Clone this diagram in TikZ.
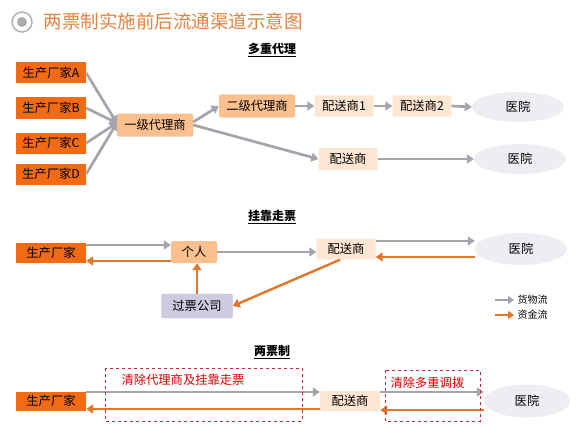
\documentclass[tikz,border=0pt]{standalone}
\usepackage{fontspec}
\setmainfont{Noto Sans CJK SC}
\usepackage{tikz}
\usetikzlibrary{positioning,arrows.meta,shapes.geometric}
\usepackage{xcolor}
\definecolor{titleorange}{HTML}{E4813F}
\definecolor{makerorange}{HTML}{F26A12}
\definecolor{agentpeach}{HTML}{FBC08E}
\definecolor{distpeach}{HTML}{FDE6D2}
\definecolor{hospgray}{HTML}{EDEDF2}
\definecolor{ticketlilac}{HTML}{CFCADF}
\definecolor{goodsgray}{HTML}{A4A4AC}
\definecolor{moneyorange}{HTML}{E0762A}
\definecolor{cutred}{HTML}{C8283C}

\begin{document}
\begin{tikzpicture}[x=1pt,y=-1pt,
  txt/.style={font=\fontsize{12.3}{14}\selectfont},
  maker/.style={txt,rectangle,fill=makerorange,minimum width=70pt,minimum height=21pt,inner sep=0pt},
  agent/.style={txt,rectangle,rounded corners=2pt,fill=agentpeach,minimum width=76pt,minimum height=23pt,inner sep=0pt},
  dist/.style={txt,rectangle,rounded corners=1pt,fill=distpeach,minimum width=59pt,minimum height=21pt,inner sep=0pt},
  hosp/.style={txt,ellipse,fill=hospgray,minimum width=92pt,minimum height=30pt,inner sep=0pt},
  goods/.style={draw=goodsgray,line width=2.7pt,-{Triangle[length=7pt,width=9pt]}},
  money/.style={draw=moneyorange,line width=2.4pt,-{Triangle[length=7pt,width=9pt]}},
  header/.style={font=\fontsize{12}{14}\selectfont\bfseries},
  cutline/.style={draw=cutred,dashed,line width=0.9pt},
  cuttext/.style={txt,text=red!85!black}]
  \useasboundingbox (0,0) rectangle (580,425);

  % title
  \draw[draw=gray!60,line width=1.5pt] (22,22) circle (10);
  \fill[gray!65] (22,22) circle (5);
  \node[anchor=west,text=titleorange,font=\fontsize{18.5}{20}\selectfont] (title) at (40,21) {两票制实施前后流通渠道示意图};

  % multi-level agents
  \node[header] (sec1) at (272,50) {\underline{多重代理}};
  \node[maker] (mA) at (51,73) {生产厂家A};
  \node[maker] (mB) at (51,108) {生产厂家B};
  \node[maker] (mC) at (51,143) {生产厂家C};
  \node[maker] (mD) at (51,174) {生产厂家D};
  \node[agent] (a1) at (155,125) {一级代理商};
  \node[agent] (a2) at (257,106) {二级代理商};
  \node[dist] (d11) at (344,106) {配送商1};
  \node[dist] (d12) at (422,106) {配送商2};
  \node[hosp] (h11) at (518,107) {医院};
  \node[dist,minimum height=22pt] (d13) at (348,159) {配送商};
  \node[hosp] (h12) at (520,159) {医院};
  \foreach \m in {mA,mB,mC,mD} { \draw[goods] (\m.east) -- ([yshift=2pt]a1.west); }
  \draw[goods] ([yshift=3pt]a1.east) -- (a2.west);
  \draw[goods] (a2.east) -- (d11.west);
  \draw[goods] (d11.east) -- (d12.west);
  \draw[goods] (d12.east) -- (h11.west);
  \draw[goods] (a1.east) -- (d13.west);
  \draw[goods] (d13.east) -- (h12.west);

  % ticket proxy
  \node[header] (sec2) at (272,217) {\underline{挂靠走票}};
  \node[maker,minimum height=20pt] (m2) at (51,253) {生产厂家};
  \node[agent,minimum width=46pt,minimum height=22pt] (p2) at (194,252) {个人};
  \node[dist] (d2) at (346,249) {配送商};
  \node[hosp,minimum height=32pt] (h2) at (521,249) {医院};
  \node[txt,rectangle,rounded corners=2pt,fill=ticketlilac,draw=gray!55,minimum width=71pt,minimum height=24pt,inner sep=0pt] (t2) at (197,306) {过票公司};
  \draw[goods] ([yshift=8pt]m2.east) -- ([yshift=7pt]p2.west);
  \draw[money] ([yshift=-9pt]p2.west) -- ([yshift=-8pt]m2.east);
  \draw[goods] (p2.east) -- (p2.east -| d2.west);
  \draw[goods] ([yshift=8pt]d2.east) -- ([yshift=8pt]h2.west);
  \draw[money] ([yshift=-8pt]h2.west) -- ([yshift=-8pt]d2.east);
  \draw[money] (t2.north) -- (t2.north |- p2.south);
  \draw[money] ([xshift=-6pt]d2.south) -- (t2.east);

  % legend
  \node[anchor=west,font=\fontsize{10}{12}\selectfont] (lg1) at (514,300) {货物流};
  \node[anchor=west,font=\fontsize{10}{12}\selectfont] (lg2) at (514,315) {资金流};
  \coordinate (lg1s) at (495,300);
  \coordinate (lg2s) at (495,315);
  \draw[goods,line width=2.2pt,-{Triangle[length=6pt,width=8pt]}] (lg1s) -- (lg1.west);
  \draw[money,line width=2.2pt,-{Triangle[length=6pt,width=8pt]}] (lg2s) -- (lg2.west);

  % two-invoice system
  \node[header] (sec3) at (272,352) {\underline{两票制}};
  \node[maker,minimum height=19pt] (m3) at (51,401) {生产厂家};
  \node[dist,minimum height=20pt,minimum width=60pt] (d3) at (350,401) {配送商};
  \node[hosp,minimum width=86pt,minimum height=33pt] (h3) at (527,401) {医院};
  \draw[goods] ([yshift=9pt]m3.east) -- ([yshift=9pt]d3.west);
  \draw[money] ([yshift=-8pt]d3.west) -- ([yshift=-8pt]m3.east);
  \draw[goods] ([yshift=9pt]d3.east) -- ([yshift=9pt]h3.west);
  \draw[money] ([yshift=-9pt]h3.west) -- ([yshift=-9pt]d3.east);
  \draw[cutline] (105,368) rectangle (302,421);
  \draw[cutline] (385,370) rectangle (480,421);
  \node[cuttext,anchor=west] (cut1) at (118,380) {清除代理商及挂靠走票};
  \node[cuttext,anchor=west] (cut2) at (387,383) {清除多重调拨};
\end{tikzpicture}
\end{document}
